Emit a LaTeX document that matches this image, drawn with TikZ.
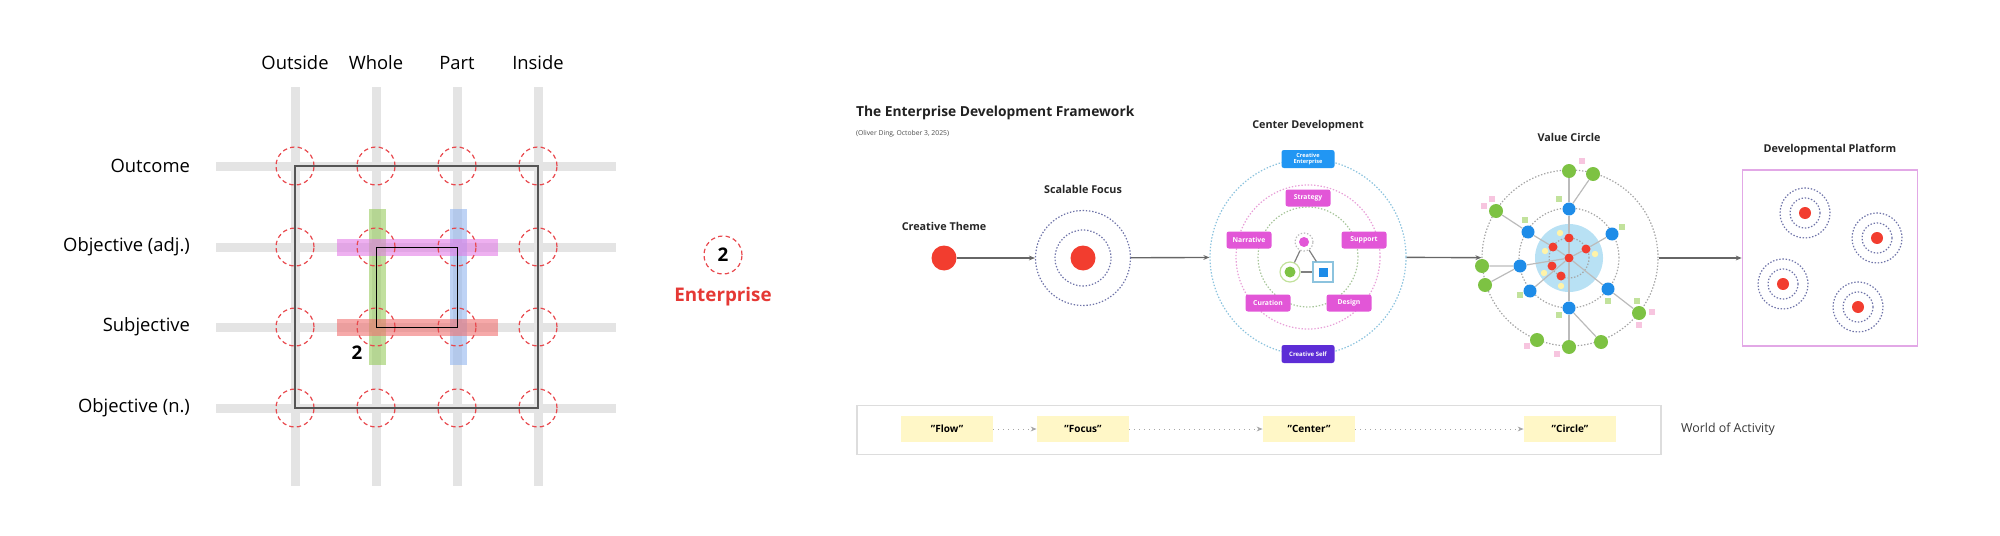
\documentclass[tikz,border=0pt]{standalone}
\usepackage{fontspec}
\setmainfont{Open Sans}
\usepackage{xcolor}
\usetikzlibrary{arrows.meta, positioning}
\definecolor{gridgray}{HTML}{E4E4E4}
\definecolor{ringred}{HTML}{E8474C}
\definecolor{framegray}{HTML}{555555}
\definecolor{barpink}{HTML}{E27BE6}
\definecolor{barred}{HTML}{F07070}
\definecolor{bargreen}{HTML}{97CC5E}
\definecolor{barblue}{HTML}{93B6EE}
\definecolor{entred}{HTML}{E53935}
\definecolor{dotred}{HTML}{F23D2F}
\definecolor{slate}{HTML}{6E73A8}
\definecolor{cmag}{HTML}{E256D7}
\definecolor{cblue}{HTML}{2196F3}
\definecolor{cpurple}{HTML}{5D2DD6}
\definecolor{ringblue}{HTML}{8CC3DE}
\definecolor{ringpink}{HTML}{E8A0D8}
\definecolor{ringgreen}{HTML}{A7C59A}
\definecolor{vgreen}{HTML}{7DC243}
\definecolor{vblue}{HTML}{1E8CE8}
\definecolor{vdisk}{HTML}{B8E1F4}
\definecolor{vyellow}{HTML}{FFF3A8}
\definecolor{sqgreen}{HTML}{C2E29C}
\definecolor{sqpink}{HTML}{F7C5DF}
\definecolor{vgray}{HTML}{BBBBBB}
\definecolor{platpink}{HTML}{E2A8E6}
\definecolor{noteyellow}{HTML}{FFF7C7}
\definecolor{worldgray}{HTML}{DDDDDD}
\definecolor{arrowgray}{HTML}{666666}

\begin{document}
\begin{tikzpicture}[x=0.5pt, y=-0.5pt,
  >={Stealth[length=3pt, width=2.4pt]},
  lab/.style={font=\fontsize{9.2}{11}\selectfont},
  num/.style={font=\fontsize{9.4}{11}\selectfont\bfseries},
  sect/.style={font=\fontsize{5.4}{6}\selectfont\bfseries, text=black!85},
  gridline/.style={draw=gridgray, line width=4.5pt},
  ring/.style={circle, draw=ringred, dash pattern=on 2.2pt off 1.6pt, line width=0.6pt, minimum size=19pt, inner sep=0pt},
  bar/.style={line width=8.5pt, opacity=0.6},
  fdot/.style={circle, fill=#1, inner sep=0pt},
  dring/.style={circle, draw=#1, dash pattern=on 0.7pt off 0.9pt, line width=0.6pt, inner sep=0pt},
  cbox/.style={fill=#1, rounded corners=1.2pt, text=white, font=\fontsize{3.4}{4}\selectfont\bfseries, minimum width=22.5pt, minimum height=8.5pt, inner sep=0pt},
  sq/.style={fill=#1, minimum size=3pt, inner sep=0pt},
  flow/.style={draw=arrowgray, line width=0.7pt, ->},
  spoke/.style={draw=vgray, line width=0.6pt},
  actbox/.style={fill=noteyellow, minimum width=46pt, minimum height=13pt, font=\fontsize{5}{6}\selectfont\bfseries, inner sep=0pt}
]
\useasboundingbox (0,0) rectangle (2000,535);

\foreach \x in {295,376,457,538} \draw[gridline] (\x,87) -- (\x,486);
\foreach \y in {166,247,327,408} \draw[gridline] (216,\y) -- (616,\y);
\node[lab] (cout) at (295,63) {Outside};
\node[lab] (cwho) at (376,63) {Whole};
\node[lab] (cpar) at (457,63) {Part};
\node[lab] (cins) at (538,63) {Inside};
\node[lab, anchor=east] (rout) at (197,166) {Outcome};
\node[lab, anchor=east] (radj) at (197,247) {Objective (adj.)};
\node[lab, anchor=east] (rsub) at (197,327) {Subjective};
\node[lab, anchor=east] (rnou) at (197,408) {Objective (n.)};
\draw[bar, draw=bargreen] (377,209) -- (377,365);
\draw[bar, draw=barblue] (458,209) -- (458,365);
\draw[bar, draw=barpink] (337,247) -- (498,247);
\draw[bar, draw=barred] (337,327) -- (498,327);
\foreach \x [count=\i] in {295,376,457,538}
  \foreach \y [count=\j] in {166,247,327,408}
    \node[ring] (r\i\j) at (\x,\y) {};
\draw[draw=framegray, line width=0.9pt] (r11.center) rectangle (r44.center);
\draw[line width=0.45pt] (r22.center) rectangle (r33.center);
\node[num] (two) at (357,353) {2};

\node[ring, num] (ent) at (723,255) {2};
\node[num, text=entred] (entlab) at (723,297) {Enterprise};

\node[anchor=west, font=\fontsize{6.9}{8}\selectfont\bfseries, text=black!87] (title) at (849,113) {The Enterprise Development Framework};
\node[anchor=west, font=\fontsize{3.4}{4}\selectfont, text=black!70] (byline) at (849,134) {(Oliver Ding, October 3, 2025)};

\node[sect] (theme-t) at (944,226) {Creative Theme};
\node[fdot=dotred, minimum size=12.5pt] (theme) at (944,258) {};

\node[sect] (focus-t) at (1083,189) {Scalable Focus};
\node[dring=slate, minimum size=47.5pt] (focus) at (1083,258) {};
\node[dring=slate, minimum size=28pt] (focus-i) at (1083,258) {};
\node[fdot=dotred, minimum size=12.5pt] (focus-d) at (1083,258) {};
\draw[flow] (theme) -- (focus);

\node[sect] (cdev-t) at (1308,126) {Center Development};
\node[dring=ringblue, minimum size=98pt] (cdev) at (1308,257) {};
\node[dring=ringpink, minimum size=72pt] (cdev-m) at (1308,257) {};
\node[dring=ringgreen, minimum size=50pt] (cdev-i) at (1308,257) {};
\draw[flow] (focus) -- (cdev);
\node[cbox=cblue, minimum width=26.5pt, minimum height=9pt, align=center, font=\fontsize{2.8}{3.2}\selectfont\bfseries] (cent) at (1308,159) {Creative\\Enterprise};
\node[cbox=cmag] (strat) at (1308,198) {Strategy};
\node[cbox=cmag] (narr) at (1249,240) {Narrative};
\node[cbox=cmag] (supp) at (1364,240) {Support};
\node[cbox=cmag] (cur) at (1268,303) {Curation};
\node[cbox=cmag] (des) at (1349,303) {Design};
\node[cbox=cpurple, minimum width=26.5pt, minimum height=9pt, font=\fontsize{3}{3.5}\selectfont\bfseries] (cself) at (1308,354) {Creative Self};
\node[dring=vgray, minimum size=9pt] (proj) at (1304,242) {};
\node[fdot=cmag, minimum size=5pt] (proj-d) at (1304,242) {};
\node[circle, draw=sqgreen, fill=white, line width=0.6pt, minimum size=10pt, inner sep=0pt] (rec) at (1290,272) {};
\node[fdot=vgreen, minimum size=5.5pt] (rec-d) at (1290,272) {};
\node[draw=ringblue, fill=white, line width=0.6pt, minimum size=10pt, inner sep=0pt] (know) at (1323,272) {};
\node[sq=vblue, minimum size=4.5pt] (know-d) at (1323,272) {};
\draw[spoke, draw=gray] (proj) -- (rec);
\draw[spoke, draw=gray] (proj) -- (know);
\draw[spoke, draw=gray] (rec) -- (know);

\node[sect] (vc-t) at (1569,137) {Value Circle};
\node[dring=gray!70, minimum size=88pt] (vc) at (1570,258) {};
\node[circle, fill=vdisk, minimum size=34pt, inner sep=0pt] (disk) at (1569,258) {};
\node[dring=gray!70, minimum size=50pt] (vc-m) at (1569,258) {};
\node[dring=gray!70, minimum size=20pt] (vc-i) at (1569,258) {};
\draw[flow] (cdev) -- (vc);
\foreach \n/\x/\y in {y1/1560/233, y2/1545/251, y3/1595/254, y4/1544/273, y5/1561/286}
  \node[fdot=vyellow, minimum size=3.2pt] (\n) at (\x,\y) {};
\foreach \n/\x/\y in {s1/1559/199, s2/1525/220, s3/1622/227, s4/1520/295, s5/1559/315, s6/1608/301, s7/1637/301}
  \node[sq=sqgreen] (\n) at (\x,\y) {};
\foreach \n/\x/\y in {p1/1582/161, p2/1492/199, p3/1484/206, p4/1652/312, p5/1639/325, p6/1527/346, p7/1557/354}
  \node[sq=sqpink] (\n) at (\x,\y) {};
\node[fdot=dotred, minimum size=4.5pt] (rc) at (1569,258) {};
\foreach \n/\x/\y in {rd1/1569/238, rd2/1553/247, rd3/1586/249, rd4/1552/266, rd5/1561/276}
  \node[fdot=dotred, minimum size=4.5pt] (\n) at (\x,\y) {};
\foreach \n/\x/\y in {b1/1569/209, b2/1528/232, b3/1612/234, b4/1520/266, b5/1530/291, b6/1608/289, b7/1569/308}
  \node[fdot=vblue, minimum size=6.5pt] (\n) at (\x,\y) {};
\foreach \n/\x/\y in {g1/1569/171, g2/1593/174, g3/1496/211, g4/1482/266, g5/1485/285, g6/1537/340, g7/1569/347, g8/1601/342, g9/1639/313}
  \node[fdot=vgreen, minimum size=7pt] (\n) at (\x,\y) {};
\draw[spoke] (g1) -- (b1) -- (rd1) -- (rc) -- (b7) -- (g7);
\draw[spoke] (g2) -- (b1);
\draw[spoke] (g3) -- (b2) -- (rd2) -- (rc) -- (b6) -- (g9);
\draw[spoke] (g4) -- (b4) -- (rc) -- (rd3) -- (b3);
\draw[spoke] (g5) -- (b4);
\draw[spoke] (b5) -- (rc);
\draw[spoke] (g8) -- (b7);

\node[sect] (plat-t) at (1830,150) {Developmental Platform};
\node[draw=platpink, line width=0.8pt, minimum width=87.5pt, minimum height=88pt, inner sep=0pt] (plat) at (1830,258) {};
\draw[flow] (vc) -- (plat);
\foreach \n/\x/\y in {f1/1805/213, f2/1877/238, f3/1783/284, f4/1858/307} {
  \node[dring=slate, minimum size=25pt] (\n o) at (\x,\y) {};
  \node[dring=slate, minimum size=15pt] (\n i) at (\x,\y) {};
  \node[fdot=dotred, minimum size=6pt] (\n d) at (\x,\y) {};
}

\node[draw=worldgray, line width=0.8pt, minimum width=402pt, minimum height=24.5pt, inner sep=0pt] (world) at (1259,430) {};
\node[actbox] (aflow) at (947,429) {\char34 Flow\char34};
\node[actbox] (afocus) at (1083,429) {\char34 Focus\char34};
\node[actbox] (acenter) at (1309,429) {\char34 Center\char34};
\node[actbox] (acircle) at (1570,429) {\char34 Circle\char34};
\draw[flow, draw=gray!70, line width=0.5pt, dotted] (aflow) -- (afocus);
\draw[flow, draw=gray!70, line width=0.5pt, dotted] (afocus) -- (acenter);
\draw[flow, draw=gray!70, line width=0.5pt, dotted] (acenter) -- (acircle);
\node[anchor=west, font=\fontsize{6.2}{7}\selectfont, text=black!78] (woa) at (1674,429) {World of Activity};
\end{tikzpicture}
\end{document}
